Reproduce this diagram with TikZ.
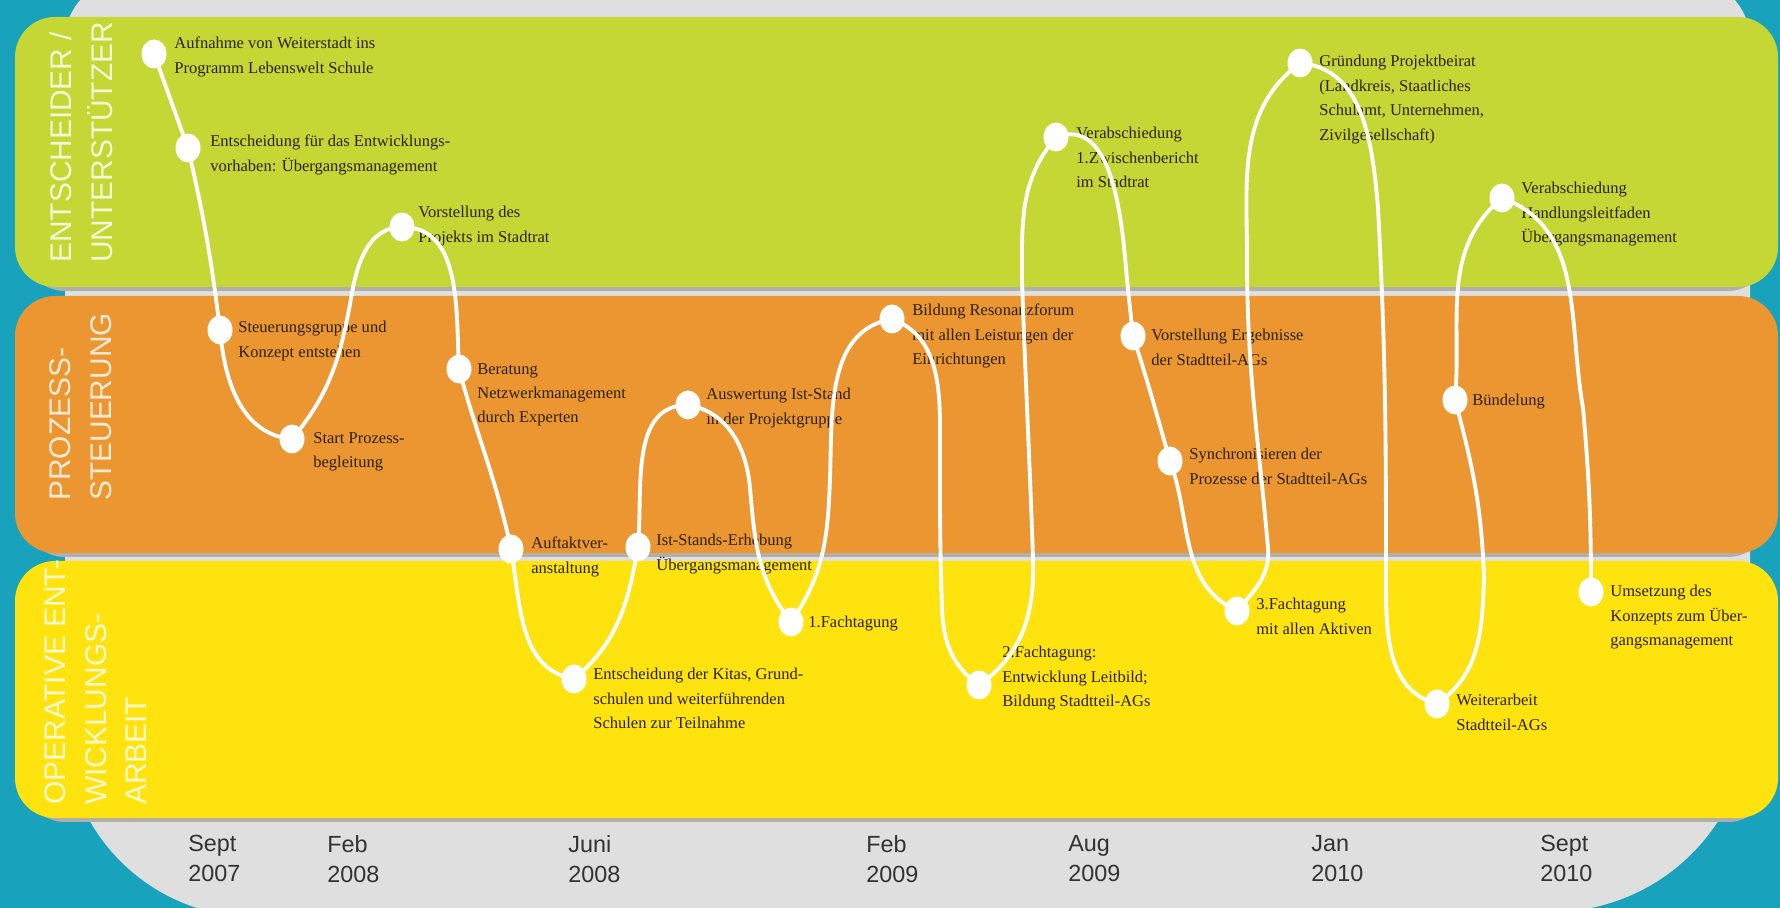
\documentclass[tikz,border=0pt]{standalone}
\usepackage{fontspec}
\setmainfont{Liberation Serif}
\setsansfont{Liberation Sans}
\usetikzlibrary{shapes.geometric}

\definecolor{bgteal}{RGB}{25,162,187}
\definecolor{bggrey}{RGB}{223,223,223}
\definecolor{lanedrop}{RGB}{178,174,168}
\definecolor{lanegreen}{RGB}{197,215,52}
\definecolor{laneorange}{RGB}{235,150,48}
\definecolor{laneyellow}{RGB}{255,227,15}
\definecolor{labink}{RGB}{42,34,16}
\definecolor{dateink}{RGB}{50,50,50}

\begin{document}
\begin{tikzpicture}[
  x=0.02cm, y=0.02cm,
  drop/.style={fill=lanedrop, rounded corners=0.8cm},
  band/.style={rounded corners=0.8cm},
  lane/.style={rotate=90, anchor=south west, inner sep=0pt, align=left, text=white, text opacity=0.8, font=\sffamily\fontsize{17}{23}\selectfont},
  datelbl/.style={anchor=north west, inner sep=0pt, align=left, text=dateink, font=\sffamily\fontsize{13.3}{17}\selectfont},
  milestone/.style={ellipse, fill=white, inner sep=0pt, minimum width=0.5cm, minimum height=0.58cm},
  lbl/.style={anchor=north west, inner sep=0pt, align=left, text=labink, font=\fontsize{9.4}{13.9}\selectfont},
  wline/.style={white, line width=2.2pt}
]

\useasboundingbox (0,0) rectangle (1780,908);

% Background
\fill[bgteal] (0,0) rectangle (1780,908);
\fill[bggrey] (65,181) -- (65,868) arc[start angle=180, end angle=90, radius=60]
  -- (1690,928) arc[start angle=90, end angle=0, radius=60]
  -- (1750,195) arc[start angle=0, end angle=-90, radius=199]
  -- (255,-9) arc[start angle=270, end angle=180, radius=190] -- cycle;

% Lanes
\fill[drop] (25,617) rectangle (1768,887);
\fill[band, fill=lanegreen] (15,621) rectangle (1778,891);
\fill[drop] (25,351) rectangle (1768,608);
\fill[band, fill=laneorange] (15,355) rectangle (1778,612);
\fill[drop] (25,86) rectangle (1768,343);
\fill[band, fill=laneyellow] (15,90) rectangle (1778,347);

\node[lane] (entlane) at (113,645) {ENTSCHEIDER /\\UNTERSTÜTZER};
\node[lane] (prozlane) at (112,407) {PROZESS-\\STEUERUNG};
\node[lane] (oplane) at (147,103) {OPERATIVE ENT-\\WICKLUNGS-\\ARBEIT};

% Time axis
\node[datelbl] (sep07) at (188,73) {Sept\\2007};
\node[datelbl] (feb08) at (327,73) {Feb\\2008};
\node[datelbl] (jun08) at (568,73) {Juni\\2008};
\node[datelbl] (feb09) at (866,73) {Feb\\2009};
\node[datelbl] (aug09) at (1068,73) {Aug\\2009};
\node[datelbl] (jan10) at (1311,73) {Jan\\2010};
\node[datelbl] (sep10) at (1540,73) {Sept\\2010};

% Labels
\node[lbl] (aufnlbl) at (174,871) {Aufnahme von Weiterstadt ins\\Programm Lebenswelt Schule};
\node[lbl] (entschlbl) at (210,773) {Entscheidung für das Entwicklungs-\\vorhaben: Übergangsmanagement};
\node[lbl] (steuerlbl) at (238,587) {Steuerungsgruppe und\\Konzept entstehen};
\node[lbl] (startlbl) at (313,476) {Start Prozess-\\begleitung};
\node[lbl] (vorstlbl) at (418,702) {Vorstellung des\\Projekts im Stadtrat};
\node[lbl] (beratlbl) at (477,545) {Beratung\\Netzwerkmanagement\\durch Experten};
\node[lbl] (auftaktlbl) at (531,371) {Auftaktver-\\anstaltung};
\node[lbl] (kitaslbl) at (593,240) {Entscheidung der Kitas, Grund-\\schulen und weiterführenden\\Schulen zur Teilnahme};
\node[lbl] (erheblbl) at (656,374) {Ist-Stands-Erhebung\\Übergangsmanagement};
\node[lbl] (auswertlbl) at (706,520) {Auswertung Ist-Stand\\in der Projektgruppe};
\node[lbl] (fach1lbl) at (808,292) {1.Fachtagung};
\node[lbl] (resonlbl) at (912,604) {Bildung Resonanzforum\\mit allen Leistungen der\\Einrichtungen};
\node[lbl] (fach2lbl) at (1002,262) {2.Fachtagung:\\Entwicklung Leitbild;\\Bildung Stadtteil-AGs};
\node[lbl] (zwischlbl) at (1076,781) {Verabschiedung\\1.Zwischenbericht\\im Stadtrat};
\node[lbl] (ergeblbl) at (1151,579) {Vorstellung Ergebnisse\\der Stadtteil-AGs};
\node[lbl] (synchlbl) at (1189,460) {Synchronisieren der\\Prozesse der Stadtteil-AGs};
\node[lbl] (fach3lbl) at (1256,310) {3.Fachtagung\\mit allen Aktiven};
\node[lbl] (beiratlbl) at (1319,853) {Gründung Projektbeirat\\(Landkreis, Staatliches\\Schulamt, Unternehmen,\\Zivilgesellschaft)};
\node[lbl] (buendlbl) at (1472,514) {Bündelung};
\node[lbl] (weiterlbl) at (1456,214) {Weiterarbeit\\Stadtteil-AGs};
\node[lbl] (leitflbl) at (1521,726) {Verabschiedung\\Handlungsleitfaden\\Übergangsmanagement};
\node[lbl] (umsetzlbl) at (1610,323) {Umsetzung des\\Konzepts zum Über-\\gangsmanagement};

% Milestones
\node[milestone] (aufn) at (154,854) {};
\node[milestone] (entsch) at (188,760) {};
\node[milestone] (steuer) at (220,578) {};
\node[milestone] (start) at (292,469) {};
\node[milestone] (vorst) at (402,681) {};
\node[milestone] (berat) at (459,539) {};
\node[milestone] (auftakt) at (511,359) {};
\node[milestone] (kitas) at (574,229) {};
\node[milestone] (erheb) at (638,361) {};
\node[milestone] (auswert) at (688,503) {};
\node[milestone] (fach1) at (791,286) {};
\node[milestone] (reson) at (892,589) {};
\node[milestone] (fach2) at (979,223) {};
\node[milestone] (zwisch) at (1056,771) {};
\node[milestone] (ergeb) at (1133,572) {};
\node[milestone] (synch) at (1170,447) {};
\node[milestone] (fach3) at (1237,297) {};
\node[milestone] (beirat) at (1300,845) {};
\node[milestone] (buend) at (1455,508) {};
\node[milestone] (weiter) at (1437,204) {};
\node[milestone] (leitf) at (1502,710) {};
\node[milestone] (umsetz) at (1591,316) {};

% Waypoints of the line
\coordinate (w1) at (352,615);
\coordinate (w2) at (750,420);
\coordinate (w3) at (830,430);
\coordinate (w4) at (940,480);
\coordinate (w5) at (942,300);
\coordinate (w6) at (1033,350);
\coordinate (w7) at (1022,628);
\coordinate (w8) at (1126,640);
\coordinate (w9) at (1268,360);
\coordinate (w10) at (1247,650);
\coordinate (w11) at (1378,700);
\coordinate (w12) at (1386,330);
\coordinate (w13) at (1484,330);
\coordinate (w14) at (1583,500);

% Timeline
\draw[wline] (aufn.center)
  to[out=-70,in=110] (entsch.center)
  to[out=-77,in=97] (steuer.center)
  to[out=-85,in=175] (start.center)
  to[out=50,in=260] (w1)
  to[out=80,in=180] (vorst.center)
  to[out=0,in=93] (berat.center)
  to[out=-75,in=102] (auftakt.center)
  to[out=-80,in=170] (kitas.center)
  to[out=40,in=260] (erheb.center)
  to[out=85,in=180] (auswert.center)
  to[out=-10,in=95] (w2)
  to[out=-85,in=128] (fach1.center)
  to[out=55,in=268] (w3)
  to[out=88,in=190] (reson.center)
  to[out=-20,in=90] (w4)
  to[out=-90,in=92] (w5)
  to[out=-88,in=145] (fach2.center)
  to[out=35,in=272] (w6)
  to[out=92,in=272] (w7)
  to[out=90,in=230] (zwisch.center)
  to[out=20,in=95] (w8)
  to[out=-85,in=96] (ergeb.center)
  to[out=-72,in=106] (synch.center)
  to[out=-70,in=155] (fach3.center)
  to[out=50,in=275] (w9)
  to[out=95,in=270] (w10)
  to[out=90,in=217] (beirat.center)
  to[out=-5,in=95] (w11)
  to[out=-87,in=90] (w12)
  to[out=-90,in=165] (weiter.center)
  to[out=35,in=268] (w13)
  to[out=92,in=285] (buend.center)
  to[out=85,in=220] (leitf.center)
  to[out=-20,in=100] (w14)
  to[out=-85,in=90] (umsetz.center);

\end{tikzpicture}
\end{document}
